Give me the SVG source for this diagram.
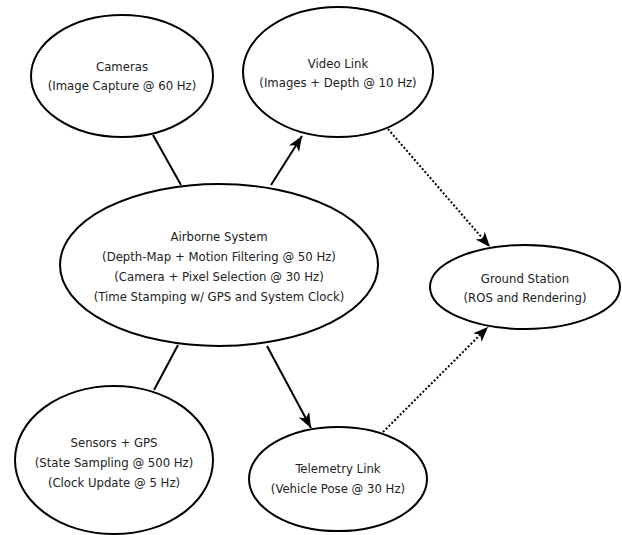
<svg xmlns="http://www.w3.org/2000/svg" width="622" height="535" viewBox="0 0 622 535">
<defs>
<style>
.n ellipse{fill:#fff;stroke:#000;stroke-width:2}
.n text{font-family:"DejaVu Sans Condensed","DejaVu Sans",sans-serif;font-size:13px;fill:#222;text-anchor:middle}
.c line{stroke:#000;stroke-width:2;fill:none}
.c .d{stroke-dasharray:2 2}
</style>
<marker id="ah" markerUnits="userSpaceOnUse" markerWidth="16" markerHeight="14" viewBox="0 0 16 14" refX="15" refY="7" orient="auto">
<path d="M0,1 L15,7 L0,13 L4,7 Z" fill="#000"/>
</marker>
</defs>
<rect width="622" height="535" fill="#fff"/>
<g id="connectors" class="c">
<line x1="153" y1="135" x2="181" y2="185"/>
<line x1="271" y1="185" x2="302" y2="136" marker-end="url(#ah)"/>
<line class="d" x1="388" y1="129" x2="490" y2="247" marker-end="url(#ah)"/>
<line x1="178" y1="345" x2="154" y2="390"/>
<line x1="267" y1="346" x2="311" y2="428" marker-end="url(#ah)"/>
<line class="d" x1="383" y1="432" x2="488" y2="327" marker-end="url(#ah)"/>
</g>
<g id="cameras" class="n">
<ellipse cx="122" cy="76" rx="91" ry="61"/>
<text x="122" y="71">Cameras</text>
<text x="122" y="90">(Image Capture @ 60 Hz)</text>
</g>
<g id="video-link" class="n">
<ellipse cx="338" cy="72" rx="95" ry="65"/>
<text x="338" y="68">Video Link</text>
<text x="338" y="87">(Images + Depth @ 10 Hz)</text>
</g>
<g id="airborne" class="n">
<ellipse cx="219" cy="265" rx="159" ry="81"/>
<text x="219" y="241">Airborne System</text>
<text x="219" y="261">(Depth-Map + Motion Filtering @ 50 Hz)</text>
<text x="219" y="281">(Camera + Pixel Selection @ 30 Hz)</text>
<text x="219" y="301">(Time Stamping w/ GPS and System Clock)</text>
</g>
<g id="ground-station" class="n">
<ellipse cx="525" cy="287" rx="95" ry="42"/>
<text x="525" y="283">Ground Station</text>
<text x="525" y="302">(ROS and Rendering)</text>
</g>
<g id="sensors" class="n">
<ellipse cx="114" cy="460" rx="99" ry="74"/>
<text x="114" y="447">Sensors + GPS</text>
<text x="114" y="467">(State Sampling @ 500 Hz)</text>
<text x="114" y="487">(Clock Update @ 5 Hz)</text>
</g>
<g id="telemetry-link" class="n">
<ellipse cx="338" cy="479" rx="89" ry="52"/>
<text x="338" y="473">Telemetry Link</text>
<text x="338" y="493">(Vehicle Pose @ 30 Hz)</text>
</g>
</svg>
